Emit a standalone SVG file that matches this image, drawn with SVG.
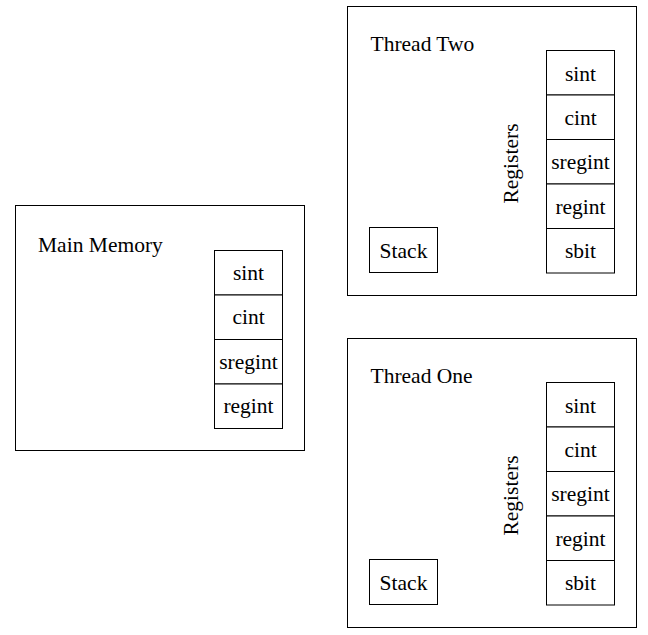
<svg xmlns="http://www.w3.org/2000/svg" width="648" height="635" viewBox="0 0 648 635">
<defs>
<style>
.box{fill:#fff;stroke:#000;stroke-width:1}
.c{text-anchor:middle}
</style>
</defs>
<rect x="0" y="0" width="648" height="635" fill="#fff"/>
<g font-family="'Liberation Serif', 'Times New Roman', Times, serif" font-size="21.5" fill="#000">
<g id="main-memory">
<rect class="box" x="15.5" y="205.5" width="289" height="245"/>
<text x="38" y="251.5">Main Memory</text>
<g id="mm-cells">
<rect class="box" x="214.5" y="250.5" width="68" height="44.5"/>
<text class="c" x="248.5" y="279.5">sint</text>
<rect class="box" x="214.5" y="295" width="68" height="44.5"/>
<text class="c" x="248.5" y="324">cint</text>
<rect class="box" x="214.5" y="339.5" width="68" height="44.5"/>
<text class="c" x="248.5" y="368.5">sregint</text>
<rect class="box" x="214.5" y="384" width="68" height="44.5"/>
<text class="c" x="248.5" y="413">regint</text>
</g>
</g>
<g id="thread-two">
<rect class="box" x="347.5" y="6.5" width="289" height="289"/>
<text x="370.5" y="51">Thread Two</text>
<rect class="box" x="369.5" y="227.5" width="68" height="45"/>
<text class="c" x="403.5" y="258">Stack</text>
<text class="c" transform="translate(518,163.5) rotate(-90)">Registers</text>
<rect class="box" x="546.5" y="50.5" width="68" height="44.5"/>
<text class="c" x="580.5" y="80.5">sint</text>
<rect class="box" x="546.5" y="95" width="68" height="44.5"/>
<text class="c" x="580.5" y="125">cint</text>
<rect class="box" x="546.5" y="139.5" width="68" height="44.5"/>
<text class="c" x="580.5" y="169.3">sregint</text>
<rect class="box" x="546.5" y="184" width="68" height="44.5"/>
<text class="c" x="580.5" y="213.5">regint</text>
<rect class="box" x="546.5" y="228.5" width="68" height="44.5"/>
<text class="c" x="580.5" y="258.3">sbit</text>
</g>
<g id="thread-one" transform="translate(0,332)">
<rect class="box" x="347.5" y="6.5" width="289" height="289"/>
<text x="370.5" y="51">Thread One</text>
<rect class="box" x="369.5" y="227.5" width="68" height="45"/>
<text class="c" x="403.5" y="258">Stack</text>
<text class="c" transform="translate(518,163.5) rotate(-90)">Registers</text>
<rect class="box" x="546.5" y="50.5" width="68" height="44.5"/>
<text class="c" x="580.5" y="80.5">sint</text>
<rect class="box" x="546.5" y="95" width="68" height="44.5"/>
<text class="c" x="580.5" y="125">cint</text>
<rect class="box" x="546.5" y="139.5" width="68" height="44.5"/>
<text class="c" x="580.5" y="169.3">sregint</text>
<rect class="box" x="546.5" y="184" width="68" height="44.5"/>
<text class="c" x="580.5" y="213.5">regint</text>
<rect class="box" x="546.5" y="228.5" width="68" height="44.5"/>
<text class="c" x="580.5" y="258.3">sbit</text>
</g>
</g>
<g id="connectors"></g>
</svg>
